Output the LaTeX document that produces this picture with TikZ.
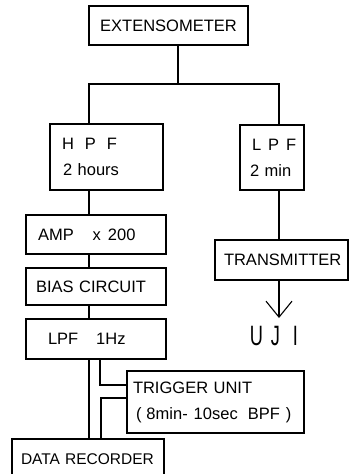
\documentclass[tikz,border=0pt]{standalone}
\usepackage{fontspec}
\setmainfont{Liberation Sans}
\usetikzlibrary{positioning,arrows.meta}
\tikzset{
  blk/.style={draw, line width=1.1pt, inner ysep=0pt, align=left, font=\fontsize{16.5}{26}\selectfont},
  lnk/.style={line width=1.1pt},
  outarrow/.style={lnk, -{Straight Barb[length=16pt,width=26pt]}}
}

\begin{document}
\begin{tikzpicture}[x=1pt,y=-1pt]
    \useasboundingbox (0,0) rectangle (352,474);
    \clip (0,0) rectangle (352,474);

    % blocks
    \node[blk, minimum width=159pt, minimum height=39pt, align=center] (ext) at (168.5,25.5) {EXTENSOMETER};
    \node[blk, text width=89pt, inner xsep=12pt, minimum height=66pt] (hpf) at (106.5,157) {\mbox{H\hspace{11pt}P\hspace{11pt}F}\\\mbox{\hspace{1pt}2 hours}};
    \node[blk, text width=44pt, inner xsep=10pt, minimum height=65pt] (lpf) at (272,157.5) {\mbox{\hspace{2pt}L\hspace{7pt}P\hspace{7pt}F}\\\mbox{2 min}};
    \node[blk, text width=116pt, inner xsep=12pt, minimum height=39pt] (amp) at (96,234.5) {\mbox{AMP\hspace{19pt}x\hspace{7pt}200}};
    \node[blk, text width=120pt, inner xsep=10pt, minimum height=37pt] (bias) at (96,286.5) {\mbox{BIAS CIRCUIT}};
    \node[blk, text width=96pt, inner xsep=22pt, minimum height=40pt] (lpfhz) at (96,339) {\mbox{LPF\hspace{18pt}1Hz}};
    \node[blk, text width=165pt, inner xsep=6pt, minimum height=62pt] (trig) at (215.5,402) {\mbox{TRIGGER UNIT}\\\mbox{\hspace{3pt}(\hspace{5pt}8min-\hspace{6pt}10sec\hspace{10pt}BPF\hspace{6pt})}};
    \node[blk, text width=134pt, inner xsep=9pt, minimum height=40pt, font=\fontsize{15.5}{26}\selectfont] (rec) at (88,459) {\mbox{DATA RECORDER}};
    \node[blk, text width=115pt, inner xsep=9pt, minimum height=40pt] (trans) at (281.5,260) {\mbox{TRANSMITTER}};
    \node[inner xsep=0pt, inner ysep=8pt, font=\fontsize{28}{28}\selectfont] (uji) at (274,336) {\scalebox{0.65}[1]{U\hspace{12pt}J\hspace{20pt}I}};

    % branch points
    \coordinate (split) at (178,84);
    \coordinate (jl) at (89,84);
    \coordinate (jr) at (279,84);
    \coordinate (tin) at (100,385);
    \coordinate (tout) at (101,398);

    % wiring
    \draw[lnk] (ext.south -| split) -- (split);
    \draw[lnk] (jl |- hpf.north) -- (jl) -- (jr) -- (jr |- lpf.north);
    \draw[lnk] (jl |- hpf.south) -- (jl |- amp.north);
    \draw[lnk] (jl |- amp.south) -- (jl |- bias.north);
    \draw[lnk] (jl |- bias.south) -- (jl |- lpfhz.north);
    \draw[lnk] (jl |- lpfhz.south) -- (jl |- rec.north);
    \draw[lnk] (tin |- lpfhz.south) |- (trig.west |- tin);
    \draw[lnk] (trig.west |- tout) -| (tout |- rec.north);
    \draw[lnk] (jr |- lpf.south) -- (jr |- trans.north);
    \draw[outarrow] (jr |- trans.south) -- (jr |- uji.north);
\end{tikzpicture}
\end{document}
